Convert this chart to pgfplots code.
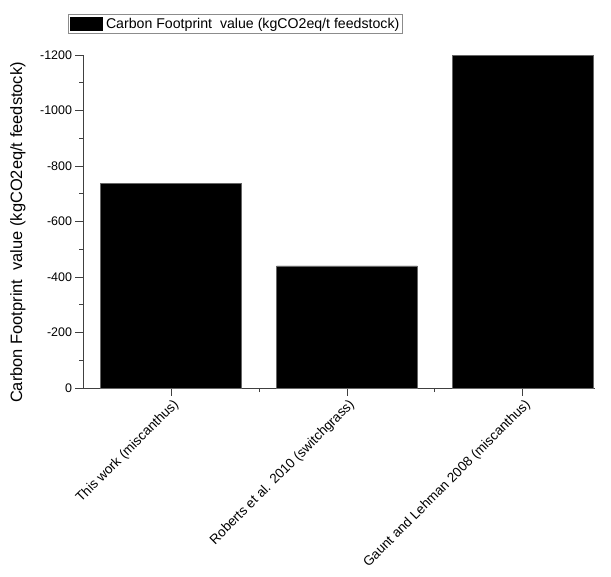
\documentclass[border=0pt]{standalone}
\usepackage{pgfplots}
\pgfplotsset{compat=1.18}
\usepackage{fontspec}
\setmainfont{Liberation Sans}
\begin{document}
\begin{tikzpicture}
\useasboundingbox (-83bp,-189bp) rectangle (528bp,388bp);
\begin{axis}[
  at={(0,0)}, anchor=south west,
  scale only axis,
  width=512bp, height=333bp,
  xmin=-0.5, xmax=2.41,
  ymin=-1200, ymax=0,
  y dir=reverse,
  ybar, bar width=0.8,
  axis x line*=bottom, axis y line*=left,
  axis line style={line width=0.9pt, color=black!75},
  every tick/.style={line width=0.8pt, color=black!75},
  xtick={0,1,2},
  xticklabels={This work (miscanthus), Roberts et al. 2010 (switchgrass), Gaunt and Lehman 2008 (miscanthus)},
  x tick label style={rotate=45, anchor=east, font=\fontsize{13.5}{15}\selectfont, inner sep=2pt, xshift=1bp, yshift=-9bp},
  extra x ticks={0.5,1.5},
  extra x tick labels={},
  extra x tick style={major tick length=4bp},
  major tick length=7.5bp,
  minor tick length=3.5bp,
  tick align=outside,
  ytick={-1200,-1000,-800,-600,-400,-200,0},
  minor y tick num=1,
  y tick label style={font=\fontsize{12.5}{14}\selectfont},
  /pgf/number format/assume math mode=true,
  /pgf/number format/1000 sep={},
  ylabel={Carbon Footprint\ \ value (kgCO2eq/t feedstock)},
  ylabel style={at={(axis description cs:-0.127,0.467)}, anchor=center, font=\fontsize{16.5}{18}\selectfont},
  legend style={at={(axis description cs:-0.029,1.123)}, anchor=north west, draw=black!45, line width=0.8pt, font=\fontsize{14.2}{16}\selectfont, inner xsep=1pt, inner ysep=1.5pt, cells={anchor=west}},
  legend image code/.code={\fill[black] (0bp,-6.5bp) rectangle (32bp,6.5bp); \path (34bp,0bp);},
  clip=false,
]
\addplot[fill=black, draw=black!60, line width=0.5pt] coordinates {(0,-737) (1,-440) (2,-1200)};
\addlegendentry{Carbon Footprint\ \ value (kgCO2eq/t feedstock)}
\end{axis}
\end{tikzpicture}
\end{document}
